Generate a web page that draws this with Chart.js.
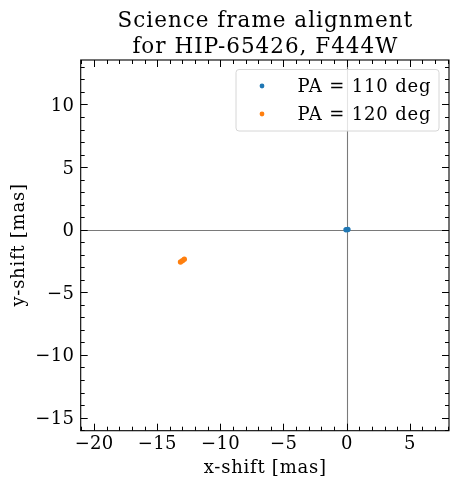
<!DOCTYPE html>
<html>
<head>
<meta charset="utf-8">
<script src="https://cdn.jsdelivr.net/npm/chart.js@4/dist/chart.umd.min.js"></script>
<style>
html,body{margin:0;padding:0;background:#fff;}
#wrap{width:459px;height:486px;position:relative;}
</style>
</head>
<body>
<div id="wrap"><canvas id="c" width="459" height="486"></canvas></div>
<script>
// ---- data ----
const seriesLabels = ["PA = 110 deg", "PA = 120 deg"];
const pa110X = [-0.05, 0.1];
const pa110Y = [0.0, 0.01];
const pa120X = [-13.15, -13.0, -12.85];
const pa120Y = [-2.58, -2.47, -2.36];
const xTicks = [-20, -15, -10, -5, 0, 5];
const yTicks = [-15, -10, -5, 0, 5, 10];
const xRange = [-21.05, 8.1];
const yRange = [-16.05, 13.55];
const titleLines = ["Science frame alignment", "for HIP-65426, F444W"];
const xLabel = "x-shift [mas]";
const yLabel = "y-shift [mas]";

const colors = ["#1f77b4", "#ff7f0e"];
const FONT = "'DejaVu Serif', serif";

function pts(xs, ys) { return xs.map((x, i) => ({x: x, y: ys[i]})); }
function fmt(v) { return v < 0 ? "\u2212" + Math.abs(v) : String(v); }

function setSpacing(ctx, px) { if ('letterSpacing' in ctx) ctx.letterSpacing = px + 'px'; }
function textC(ctx, s, x, y, sp) {
  ctx.textAlign = 'center';
  ctx.fillText(s, x + sp / 2, y);
}

const decor = {
  id: 'decor',
  beforeDatasetsDraw(chart) {
    const {ctx, chartArea: a, scales: {x, y}} = chart;
    ctx.save();
    ctx.beginPath();
    ctx.rect(a.left, a.top, a.right - a.left, a.bottom - a.top);
    ctx.clip();
    ctx.strokeStyle = '#7a7a7a';
    ctx.lineWidth = 1.1;
    const x0 = Math.round(x.getPixelForValue(0)) + 0.5;
    const y0 = Math.round(y.getPixelForValue(0)) + 0.5;
    ctx.beginPath();
    ctx.moveTo(x0, a.top); ctx.lineTo(x0, a.bottom);
    ctx.moveTo(a.left, y0); ctx.lineTo(a.right, y0);
    ctx.stroke();
    ctx.restore();
  },
  afterDraw(chart) {
    const {ctx, chartArea: a, scales: {x, y}} = chart;
    ctx.save();
    ctx.strokeStyle = '#000';
    ctx.lineWidth = 1;
    ctx.beginPath();
    for (let v = Math.ceil(xRange[0]); v <= Math.floor(xRange[1]); v++) {
      const L = xTicks.includes(v) ? 7 : 4;
      const px = Math.round(x.getPixelForValue(v)) + 0.5;
      ctx.moveTo(px, a.bottom); ctx.lineTo(px, a.bottom - L);
      ctx.moveTo(px, a.top); ctx.lineTo(px, a.top + L);
    }
    for (let v = Math.ceil(yRange[0]); v <= Math.floor(yRange[1]); v++) {
      const L = yTicks.includes(v) ? 7 : 4;
      const py = Math.round(y.getPixelForValue(v)) + 0.5;
      ctx.moveTo(a.left, py); ctx.lineTo(a.left + L, py);
      ctx.moveTo(a.right, py); ctx.lineTo(a.right - L, py);
    }
    ctx.stroke();
    ctx.lineWidth = 1.1;
    ctx.strokeRect(a.left, a.top, a.right - a.left, a.bottom - a.top);

    ctx.fillStyle = '#000';
    ctx.textBaseline = 'alphabetic';

    // tick labels
    ctx.font = "18px " + FONT;
    setSpacing(ctx, 0.3);
    xTicks.forEach(v => {
      textC(ctx, fmt(v), x.getPixelForValue(v), 449, 0.3);
    });
    ctx.textAlign = 'right';
    yTicks.forEach(v => {
      ctx.fillText(fmt(v), a.left - 6.5, y.getPixelForValue(v) + 6.5);
    });

    // title
    const cx = (a.left + a.right) / 2;
    ctx.font = "21.5px " + FONT;
    setSpacing(ctx, 1.0);
    textC(ctx, titleLines[0], cx, 27.3, 1.0);
    textC(ctx, titleLines[1], cx, 52.7, 1.0);

    // axis labels
    ctx.font = "18px " + FONT;
    setSpacing(ctx, 0.75);
    textC(ctx, xLabel, cx, 472.5, 0.75);
    ctx.save();
    ctx.translate(23.5, (a.top + a.bottom) / 2);
    ctx.rotate(-Math.PI / 2);
    textC(ctx, yLabel, 0, 0, 0.75);
    ctx.restore();

    // legend
    setSpacing(ctx, 0);
    const lx = 236, ly = 69.5, lw = 203, lh = 61.5;
    ctx.fillStyle = 'rgba(255,255,255,0.8)';
    ctx.strokeStyle = '#d6d6d6';
    ctx.lineWidth = 1;
    ctx.beginPath();
    ctx.roundRect(lx, ly, lw, lh, 3);
    ctx.fill();
    ctx.stroke();
    ctx.font = "18px " + FONT;
    setSpacing(ctx, 0.85);
    ctx.textAlign = 'left';
    const rows = [[86, 92.3], [114, 120.3]];
    rows.forEach((r, i) => {
      ctx.fillStyle = colors[i];
      ctx.beginPath();
      ctx.arc(262, r[0], 2.4, 0, Math.PI * 2);
      ctx.fill();
      ctx.fillStyle = '#000';
      ctx.fillText(seriesLabels[i], 297.5, r[1]);
    });
    ctx.restore();
  }
};

new Chart(document.getElementById('c'), {
  type: 'scatter',
  data: {
    datasets: [
      {label: seriesLabels[0], data: pts(pa110X, pa110Y), backgroundColor: colors[0], borderColor: colors[0], pointRadius: 2.7, borderWidth: 0},
      {label: seriesLabels[1], data: pts(pa120X, pa120Y), backgroundColor: colors[1], borderColor: colors[1], pointRadius: 2.7, borderWidth: 0}
    ]
  },
  options: {
    responsive: false,
    animation: false,
    devicePixelRatio: 1,
    layout: {padding: {top: 60, right: 10, left: 0, bottom: 0}},
    plugins: {legend: {display: false}, title: {display: false}, tooltip: {enabled: false}},
    scales: {
      x: {
        type: 'linear', min: xRange[0], max: xRange[1],
        grid: {display: false, drawTicks: false},
        border: {display: false},
        afterBuildTicks: s => { s.ticks = xTicks.map(v => ({value: v})); },
        afterFit: s => { s.height = 55.3; },
        ticks: {display: false},
        title: {display: false}
      },
      y: {
        type: 'linear', min: yRange[0], max: yRange[1],
        grid: {display: false, drawTicks: false},
        border: {display: false},
        afterBuildTicks: s => { s.ticks = yTicks.map(v => ({value: v})); },
        afterFit: s => { s.width = 80.7; },
        ticks: {display: false},
        title: {display: false}
      }
    }
  },
  plugins: [decor]
});
</script>
</body>
</html>
